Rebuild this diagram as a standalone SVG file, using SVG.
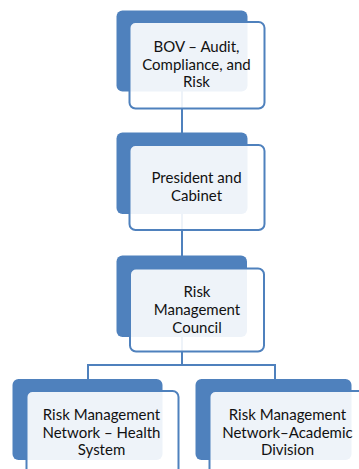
<svg xmlns="http://www.w3.org/2000/svg" width="359" height="469" viewBox="0 0 359 469">
<style>
.back{fill:#4F81BD}
.front{fill:#FFFFFF;fill-opacity:0.9;stroke:#4F81BD;stroke-width:2}
.conn{fill:none;stroke:#4F81BD;stroke-width:2}
text{font-family:Lato,"Liberation Sans",sans-serif;font-size:15px;fill:#111111;text-anchor:middle}
</style>
<rect width="359" height="469" fill="#FFFFFF"/>
<g id="connectors">
<line class="conn" x1="182" y1="50" x2="182" y2="170"/>
<line class="conn" x1="182" y1="170" x2="182" y2="300"/>
<polyline class="conn" points="182,300 182,365 88,365 88,400"/>
<polyline class="conn" points="182,365 275,365 275,400"/>
</g>
<g id="node1">
<rect class="back" x="116.5" y="10.5" width="131" height="81" rx="6"/>
<rect class="front" x="129.5" y="22" width="135" height="86.5" rx="6"/>
<text x="196.5" y="51.5">BOV – Audit,</text>
<text x="196.5" y="69.5">Compliance, and</text>
<text x="196.5" y="87">Risk</text>
</g>
<g id="node2">
<rect class="back" x="116.5" y="132.5" width="131" height="81.5" rx="6"/>
<rect class="front" x="129.5" y="145" width="135" height="85" rx="6"/>
<text x="196.5" y="182.5">President and</text>
<text x="196.5" y="200.5">Cabinet</text>
</g>
<g id="node3">
<rect class="back" x="116.5" y="255.5" width="130.5" height="81.5" rx="6"/>
<rect class="front" x="130" y="268.5" width="134" height="83" rx="6"/>
<text x="197" y="296.5">Risk</text>
<text x="197" y="314.5">Management</text>
<text x="197" y="332.5">Council</text>
</g>
<g id="node4">
<rect class="back" x="12.5" y="379" width="150" height="81" rx="6"/>
<rect class="front" x="26.5" y="391" width="152" height="84" rx="6"/>
<text x="101.5" y="419.5">Risk Management</text>
<text x="101.5" y="437.5">Network – Health</text>
<text x="101.5" y="455">System</text>
</g>
<g id="node5">
<rect class="back" x="195.5" y="379" width="156" height="81" rx="6"/>
<rect class="front" x="209.5" y="391" width="155" height="84" rx="6"/>
<text x="287.5" y="419.5">Risk Management</text>
<text x="287.5" y="437.5">Network–Academic</text>
<text x="287.5" y="455">Division</text>
</g>
</svg>
